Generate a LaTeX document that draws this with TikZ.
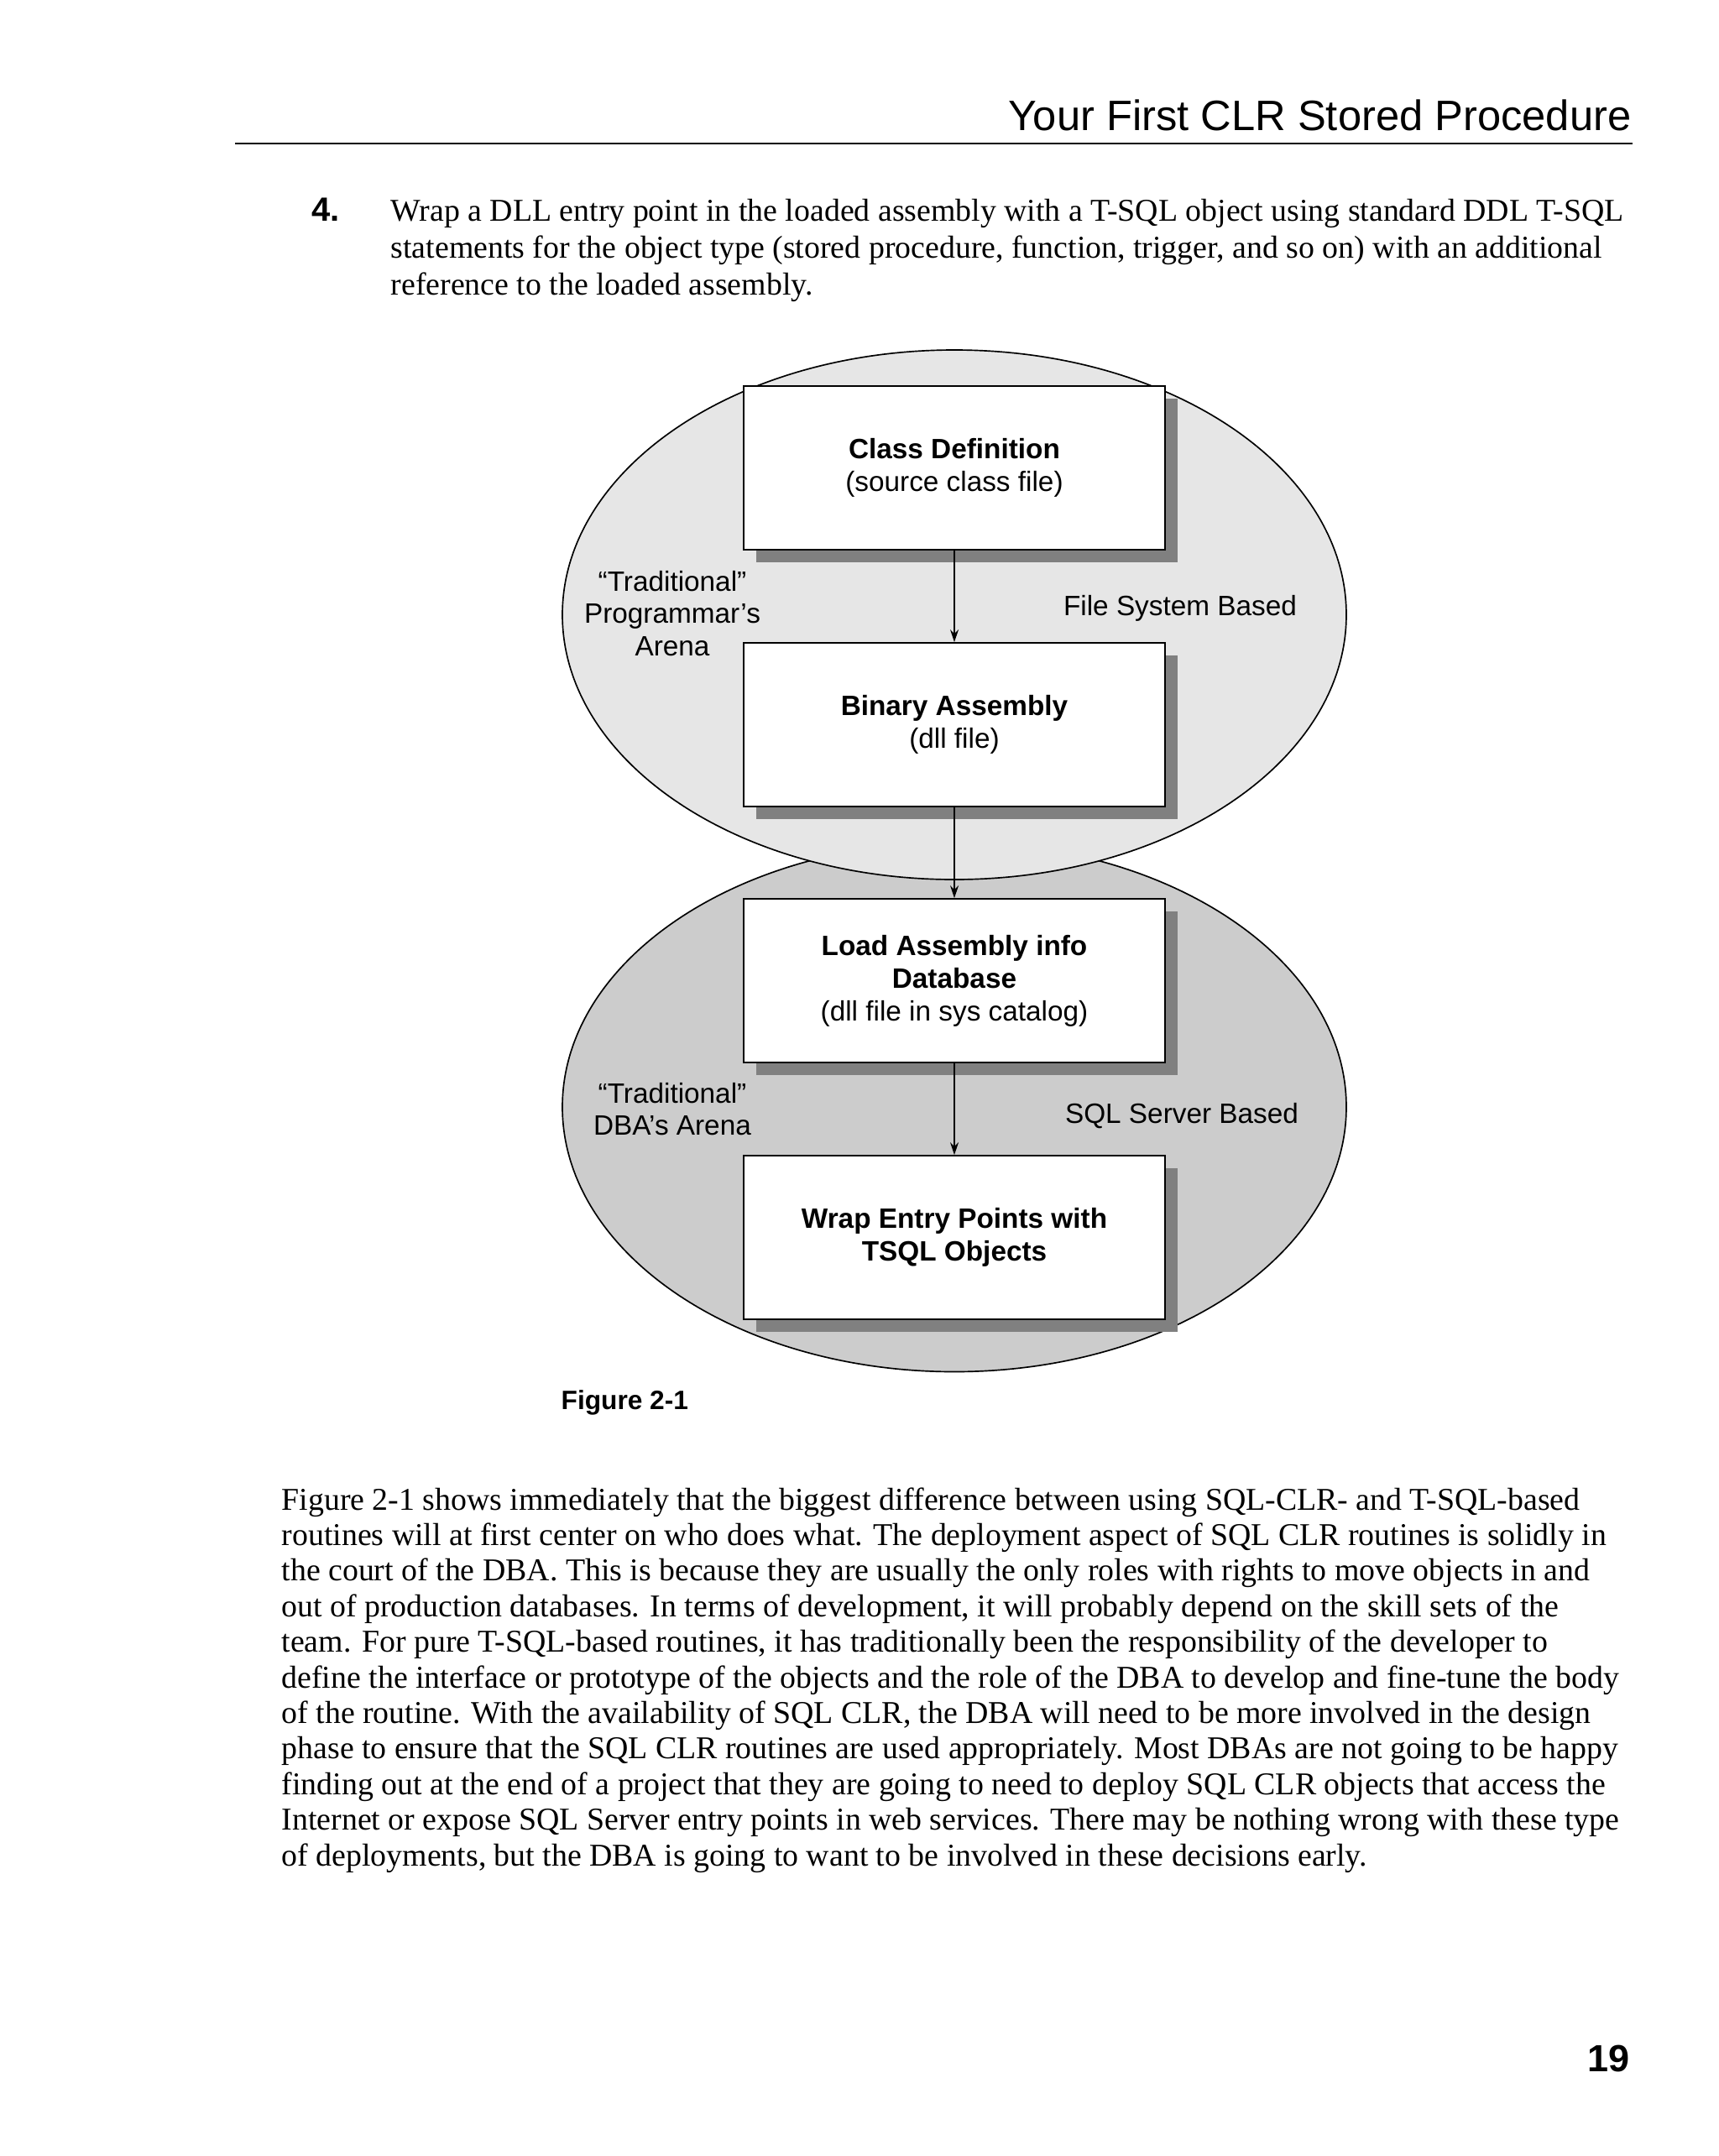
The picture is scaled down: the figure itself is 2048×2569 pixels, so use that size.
\documentclass[tikz,border=0pt]{standalone}
\usepackage{fontspec}
\usetikzlibrary{shapes.geometric,shadows,arrows.meta}
\newfontfamily\hsans{Liberation Sans}
\newfontfamily\bodyserif{Liberation Serif}
\definecolor{ellA}{HTML}{E6E6E6}
\definecolor{ellB}{HTML}{CCCCCC}
\definecolor{shadowc}{HTML}{808080}
\begin{document}
\begin{tikzpicture}[x=0.3pt,y=-0.3pt,
  body/.style={font=\bodyserif\fontsize{11.35}{13}\selectfont, anchor=base west, inner sep=0pt},
  stagebox/.style={draw=black, line width=0.5pt, fill=white, minimum width=150.6pt, minimum height=58.5pt, inner sep=0pt, align=center, font=\hsans\fontsize{10}{11.7}\selectfont, drop shadow={shadow xshift=4.5pt, shadow yshift=-4.5pt, opacity=1, fill=shadowc, draw=none}},
  flow/.style={-{Stealth[length=4.5pt,width=3pt]}, line width=0.4pt},
  arena/.style={ellipse, draw=black, line width=0.5pt, minimum width=280.2pt, minimum height=189.3pt, inner sep=0pt},
  lbl/.style={font=\hsans\fontsize{10}{11.55}\selectfont, align=center, inner sep=0pt}]
\fill[white] (0,0) rectangle (2048,2569);
\useasboundingbox (0,0) rectangle (2048,2569);

% running head
\node[anchor=base east, inner sep=0pt, font=\hsans\fontsize{15.2}{18}\selectfont] (hdr) at (1944,155) {Your First CLR Stored Procedure};
\draw[line width=0.85pt] (280,171) -- (1945,171);

% step 4
\node[anchor=base west, inner sep=0pt, font=\hsans\bfseries\fontsize{12}{14}\selectfont] (num) at (371,263) {4.};
\node[body] (i1) at (465,263) {Wrap a DLL entry point in the loaded assembly with a T-SQL object using standard DDL T-SQL};
\node[body] (i2) at (465,307) {statements for the object type (stored procedure, function, trigger, and so on) with an additional};
\node[body] (i3) at (465,351) {reference to the loaded assembly.};

% diagram
\node[arena, fill=ellB] (ellDBA) at (1137,1319) {};
\node[arena, fill=ellA] (ellProg) at (1137,732.5) {};
\node[stagebox] (cls) at (1137,557.5) {\textbf{Class Definition}\\(source class file)};
\node[stagebox] (bin) at (1137,863.5) {\textbf{Binary Assembly}\\(dll file)};
\node[stagebox] (load) at (1137,1168.5) {\textbf{Load Assembly info}\\\textbf{Database}\\(dll file in sys catalog)};
\node[stagebox] (wrap) at (1137,1474.5) {\textbf{Wrap Entry Points with}\\\textbf{TSQL Objects}};
\draw[flow] (cls) -- (bin);
\draw[flow] (bin) -- (load);
\draw[flow] (load) -- (wrap);
\node[lbl] (progLbl) at (801,731) {“Traditional”\\Programmar’s\\Arena};
\node[lbl, anchor=base] (fsLbl) at (1406,733) {File System Based};
\node[lbl] (dbaLbl) at (801,1321.5) {“Traditional”\\DBA’s Arena};
\node[lbl, anchor=base] (sqlLbl) at (1408,1338) {SQL Server Based};
\node[anchor=base west, inner sep=0pt, font=\hsans\bfseries\fontsize{9.5}{11}\selectfont] (figcap) at (668,1679) {Figure 2-1};

% body paragraph
\node[body] (p1) at (335,1799) {Figure 2-1 shows immediately that the biggest difference between using SQL-CLR- and T-SQL-based};
\node[body] (p2) at (335,1841.4) {routines will at first center on who does what. The deployment aspect of SQL CLR routines is solidly in};
\node[body] (p3) at (335,1883.8) {the court of the DBA. This is because they are usually the only roles with rights to move objects in and};
\node[body] (p4) at (335,1926.2) {out of production databases. In terms of development, it will probably depend on the skill sets of the};
\node[body] (p5) at (335,1968.6) {team. For pure T-SQL-based routines, it has traditionally been the responsibility of the developer to};
\node[body] (p6) at (335,2011) {define the interface or prototype of the objects and the role of the DBA to develop and fine-tune the body};
\node[body] (p7) at (335,2053.4) {of the routine. With the availability of SQL CLR, the DBA will need to be more involved in the design};
\node[body] (p8) at (335,2095.8) {phase to ensure that the SQL CLR routines are used appropriately. Most DBAs are not going to be happy};
\node[body] (p9) at (335,2138.2) {finding out at the end of a project that they are going to need to deploy SQL CLR objects that access the};
\node[body] (p10) at (335,2180.6) {Internet or expose SQL Server entry points in web services. There may be nothing wrong with these type};
\node[body] (p11) at (335,2223) {of deployments, but the DBA is going to want to be involved in these decisions early.};

% page number
\node[anchor=base east, inner sep=0pt, font=\hsans\bfseries\fontsize{13.5}{16}\selectfont] (pg) at (1942,2468) {19};
\end{tikzpicture}
\end{document}
